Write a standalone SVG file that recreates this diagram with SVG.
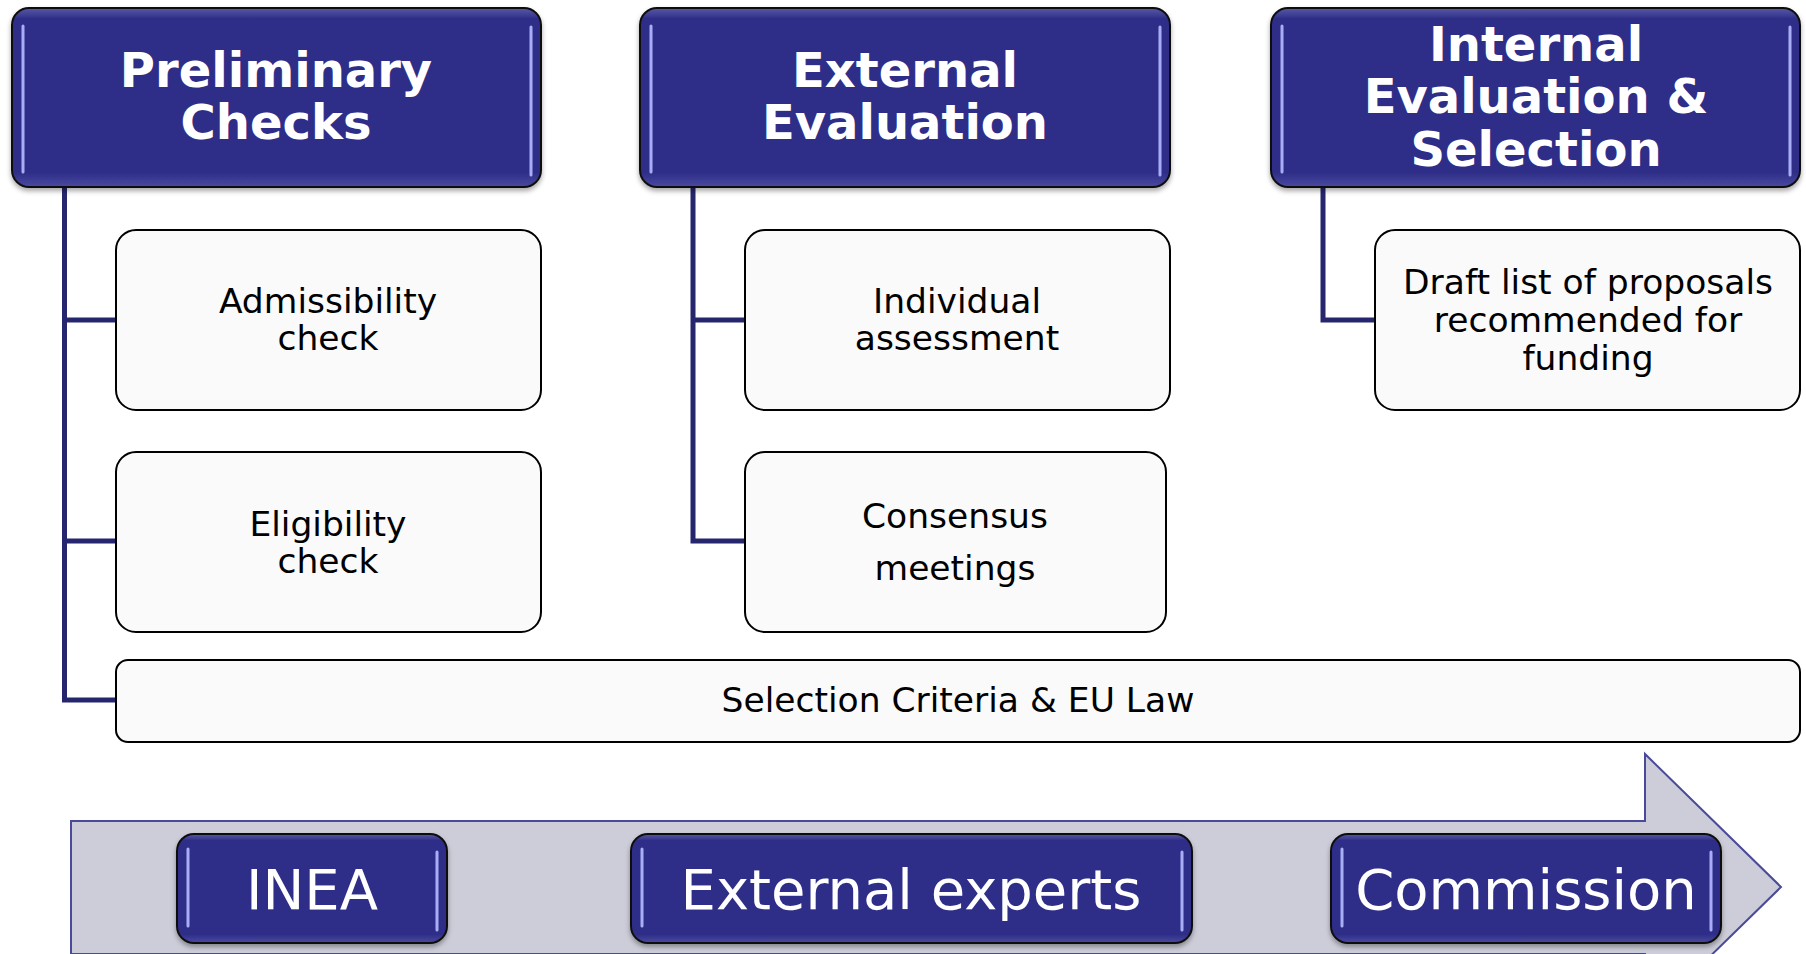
<svg xmlns="http://www.w3.org/2000/svg" width="1806" height="954" viewBox="0 0 1806 954">
<defs>
  <linearGradient id="hdr" x1="0" y1="0" x2="0" y2="1">
    <stop offset="0" stop-color="#5a5aa8"/>
    <stop offset="0.06" stop-color="#2e2e88"/>
    <stop offset="0.92" stop-color="#2e2e88"/>
    <stop offset="1" stop-color="#4a4aa0"/>
  </linearGradient>
  <filter id="sh" x="-5%" y="-5%" width="110%" height="120%">
    <feDropShadow dx="0" dy="3" stdDeviation="2.5" flood-color="#000" flood-opacity="0.35"/>
  </filter>
</defs>
<style>
  .hdr { fill: url(#hdr); stroke: #111; stroke-width: 2; filter: url(#sh); }
  .hl { stroke: #a9adf5; stroke-width: 3; stroke-linecap: round; }
  .box { fill: #fafafa; stroke: #000; stroke-width: 2; }
  .conn { fill: none; stroke: #26266e; stroke-width: 5; }
  .ht { font-family: "DejaVu Sans", Verdana, sans-serif; font-weight: bold; font-size: 48px; fill: #fff; text-anchor: middle; }
  .bt { font-family: "DejaVu Sans", Verdana, sans-serif; font-size: 34.5px; fill: #000; text-anchor: middle; }
  .lt { font-family: "DejaVu Sans", Verdana, sans-serif; font-size: 56px; fill: #fff; text-anchor: middle; }
</style>
<rect width="1806" height="954" fill="#fff"/>

<g id="timeline-arrow">
  <path d="M71,954 L71,821 L1645,821 L1645,754 L1781,887 L1645,1020 L1645,954 Z" fill="#cdcdd9" stroke="#4a4a9a" stroke-width="2"/>
</g>

<g id="connectors">
  <path class="conn" d="M64.5,187 V700 H116 M64.5,320 H116 M64.5,541 H116"/>
  <path class="conn" d="M693,187 V541 H745 M693,320 H745"/>
  <path class="conn" d="M1323,187 V320 H1375"/>
</g>

<g id="hdr-preliminary">
  <rect class="hdr" x="12" y="8" width="529" height="179" rx="17"/>
  <line class="hl" x1="23" y1="26" x2="23" y2="172"/>
  <line class="hl" x1="531" y1="27" x2="531" y2="175"/>
  <text class="ht" x="276" y="87">Preliminary</text>
  <text class="ht" x="276" y="139">Checks</text>
</g>
<g id="hdr-external">
  <rect class="hdr" x="640" y="8" width="530" height="179" rx="17"/>
  <line class="hl" x1="651" y1="26" x2="651" y2="172"/>
  <line class="hl" x1="1160" y1="27" x2="1160" y2="175"/>
  <text class="ht" x="905" y="87">External</text>
  <text class="ht" x="905" y="139">Evaluation</text>
</g>
<g id="hdr-internal">
  <rect class="hdr" x="1271" y="8" width="529" height="179" rx="17"/>
  <line class="hl" x1="1282" y1="26" x2="1282" y2="172"/>
  <line class="hl" x1="1790" y1="27" x2="1790" y2="175"/>
  <text class="ht" x="1536" y="61">Internal</text>
  <text class="ht" x="1536" y="113">Evaluation &amp;</text>
  <text class="ht" x="1536" y="166">Selection</text>
</g>

<g id="admissibility">
  <rect class="box" x="116" y="230" width="425" height="180" rx="20"/>
  <text class="bt" x="328" y="313">Admissibility</text>
  <text class="bt" x="328" y="350">check</text>
</g>
<g id="eligibility">
  <rect class="box" x="116" y="452" width="425" height="180" rx="20"/>
  <text class="bt" x="328" y="536">Eligibility</text>
  <text class="bt" x="328" y="573">check</text>
</g>
<g id="individual">
  <rect class="box" x="745" y="230" width="425" height="180" rx="20"/>
  <text class="bt" x="957" y="313">Individual</text>
  <text class="bt" x="957" y="350">assessment</text>
</g>
<g id="consensus">
  <rect class="box" x="745" y="452" width="421" height="180" rx="20"/>
  <text class="bt" x="955" y="528">Consensus</text>
  <text class="bt" x="955" y="580">meetings</text>
</g>
<g id="draft-list">
  <rect class="box" x="1375" y="230" width="425" height="180" rx="20"/>
  <text class="bt" x="1588" y="294">Draft list of proposals</text>
  <text class="bt" x="1588" y="332">recommended for</text>
  <text class="bt" x="1588" y="370">funding</text>
</g>
<g id="selection-criteria">
  <rect class="box" x="116" y="660" width="1684" height="82" rx="12"/>
  <text class="bt" x="958" y="712">Selection Criteria &amp; EU Law</text>
</g>

<g id="inea">
  <rect class="hdr" x="177" y="834" width="270" height="109" rx="17"/>
  <line class="hl" x1="188" y1="849" x2="188" y2="926"/>
  <line class="hl" x1="437" y1="852" x2="437" y2="930"/>
  <text class="lt" x="312" y="909">INEA</text>
</g>
<g id="external-experts">
  <rect class="hdr" x="631" y="834" width="561" height="109" rx="17"/>
  <line class="hl" x1="642" y1="849" x2="642" y2="926"/>
  <line class="hl" x1="1182" y1="852" x2="1182" y2="930"/>
  <text class="lt" x="911" y="909">External experts</text>
</g>
<g id="commission">
  <rect class="hdr" x="1331" y="834" width="390" height="109" rx="17"/>
  <line class="hl" x1="1342" y1="849" x2="1342" y2="926"/>
  <line class="hl" x1="1711" y1="852" x2="1711" y2="930"/>
  <text class="lt" x="1526" y="909">Commission</text>
</g>
</svg>
